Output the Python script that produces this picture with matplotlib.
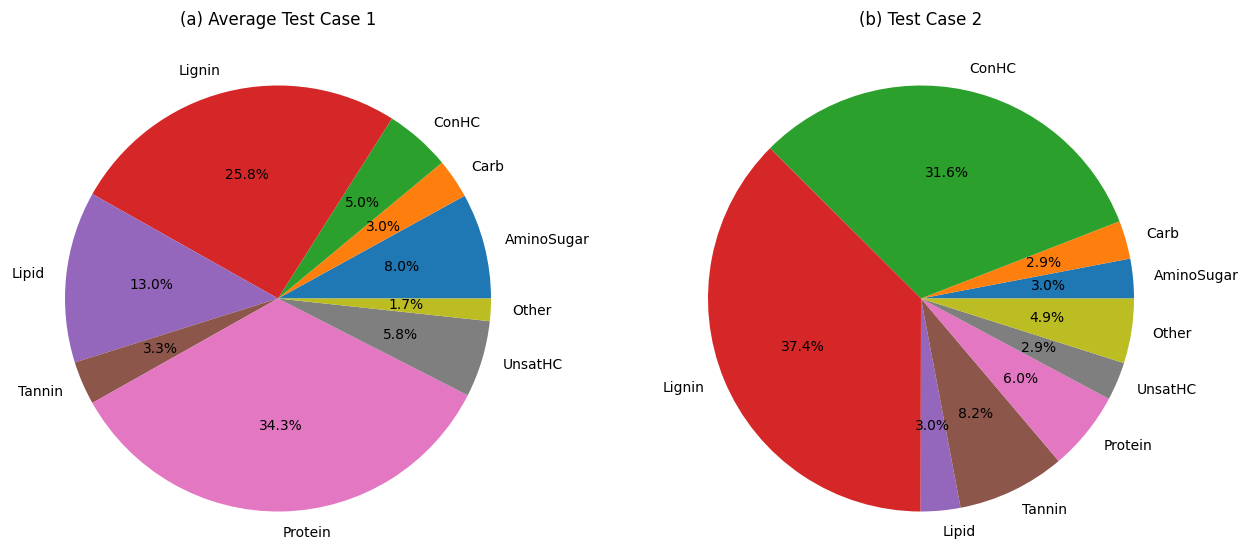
import matplotlib
matplotlib.use("Agg")
import matplotlib.pyplot as plt

# composition classes, in plotting order
classes = ['AminoSugar', 'Carb', 'ConHC', 'Lignin', 'Lipid',
           'Tannin', 'Protein', 'UnsatHC', 'Other']

# percentage shares for each case
case1 = [8.0, 3.0, 5.0, 25.8, 13.0, 3.3, 34.3, 5.8, 1.7]
case2 = [3.0, 2.9, 31.6, 37.4, 3.0, 8.2, 6.0, 2.9, 4.9]

titles = ['(a) Average Test Case 1', '(b) Test Case 2']

W, H = 1241, 541
fig = plt.figure(figsize=(W / 100, H / 100), dpi=100)

size = 532.5  # axes side in pixels (pie radius * 2.5)
centers = [(278, 242.5), (921, 242.5)]

for (cx, cy), vals, title in zip(centers, [case1, case2], titles):
    ax = fig.add_axes([(cx - size / 2) / W, (cy - size / 2) / H, size / W, size / H])
    ax.pie(vals, labels=classes, autopct='%1.1f%%')
    ax.set_title(title, fontsize=12, pad=5)

fig.savefig('out.png', dpi=100)
